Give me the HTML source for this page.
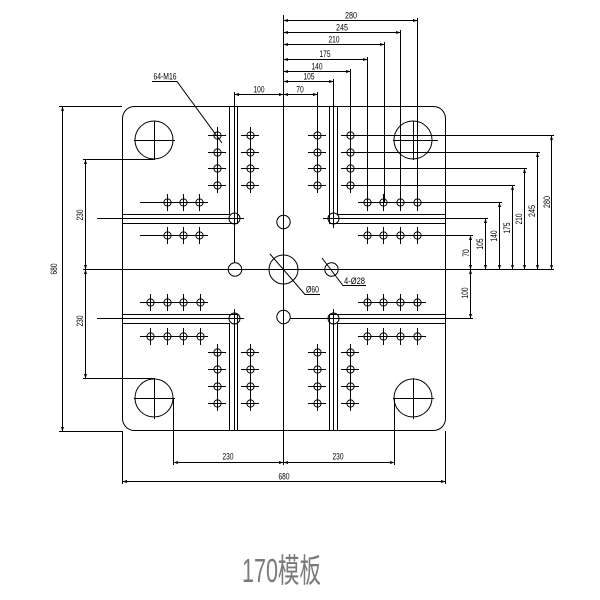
<!DOCTYPE html>
<html><head><meta charset="utf-8"><style>html,body{margin:0;padding:0;background:#fff;}svg{display:block}</style></head>
<body>
<svg width="600" height="600" viewBox="0 0 600 600" xmlns="http://www.w3.org/2000/svg">
<defs>
<marker id="a" viewBox="0 0 6 4" refX="6" refY="2" markerWidth="5" markerHeight="3" markerUnits="userSpaceOnUse" orient="auto-start-reverse"><path d="M0,0L6,2L0,4z" fill="#000"/></marker>
</defs>
<g stroke="#000" stroke-width="1" fill="none">
<!-- plate -->
<rect x="122.5" y="106.5" width="323" height="324" rx="12"/>
<line x1="122.5" y1="431" x2="122.5" y2="484"/>
<line x1="445.5" y1="431" x2="445.5" y2="484"/>
<!-- left 680 -->
<line x1="59" y1="106.5" x2="122" y2="106.5"/>
<line x1="59" y1="431.5" x2="122" y2="431.5"/>
<line x1="62.5" y1="106.5" x2="62.5" y2="431.5" marker-start="url(#a)" marker-end="url(#a)"/>
<!-- left 230s -->
<line x1="83" y1="159.5" x2="154" y2="159.5"/>
<line x1="83" y1="378.5" x2="154" y2="378.5"/>
<line x1="85.5" y1="159.5" x2="85.5" y2="269.5" marker-start="url(#a)" marker-end="url(#a)"/>
<line x1="85.5" y1="269.5" x2="85.5" y2="378.5" marker-start="url(#a)" marker-end="url(#a)"/>
<!-- center lines -->
<line x1="83" y1="269.5" x2="554" y2="269.5"/>
<line x1="283.5" y1="15" x2="283.5" y2="465"/>
<!-- bottom dims -->
<line x1="173.5" y1="398" x2="173.5" y2="465"/>
<line x1="394.5" y1="398" x2="394.5" y2="465"/>
<line x1="173.5" y1="462.5" x2="283.5" y2="462.5" marker-start="url(#a)" marker-end="url(#a)"/>
<line x1="283.5" y1="462.5" x2="394.5" y2="462.5" marker-start="url(#a)" marker-end="url(#a)"/>
<line x1="122.5" y1="481.5" x2="445.5" y2="481.5" marker-start="url(#a)" marker-end="url(#a)"/>
<!-- top dims -->
<line x1="283.5" y1="20.5" x2="417.5" y2="20.5" marker-start="url(#a)" marker-end="url(#a)"/>
<line x1="283.5" y1="32.5" x2="400.5" y2="32.5" marker-start="url(#a)" marker-end="url(#a)"/>
<line x1="283.5" y1="44.5" x2="384.5" y2="44.5" marker-start="url(#a)" marker-end="url(#a)"/>
<line x1="283.5" y1="59.5" x2="367.5" y2="59.5" marker-start="url(#a)" marker-end="url(#a)"/>
<line x1="283.5" y1="71.5" x2="350.5" y2="71.5" marker-start="url(#a)" marker-end="url(#a)"/>
<line x1="283.5" y1="81.5" x2="333.5" y2="81.5" marker-start="url(#a)" marker-end="url(#a)"/>
<line x1="283.5" y1="94.5" x2="317.5" y2="94.5" marker-start="url(#a)" marker-end="url(#a)"/>
<line x1="234.5" y1="94.5" x2="283.5" y2="94.5" marker-start="url(#a)" marker-end="url(#a)"/>
<line x1="417.5" y1="18" x2="417.5" y2="202"/>
<line x1="400.5" y1="30" x2="400.5" y2="202"/>
<line x1="384.5" y1="42" x2="384.5" y2="202"/>
<line x1="367.5" y1="57" x2="367.5" y2="202"/>
<line x1="350.5" y1="69" x2="350.5" y2="193"/>
<line x1="317.5" y1="92" x2="317.5" y2="193"/>
<line x1="333.5" y1="79" x2="333.5" y2="228"/>
<line x1="234.5" y1="92" x2="234.5" y2="263"/>
<!-- right dims -->
<line x1="470.5" y1="269.5" x2="470.5" y2="235.5" marker-start="url(#a)" marker-end="url(#a)"/>
<line x1="485.5" y1="269.5" x2="485.5" y2="218.5" marker-start="url(#a)" marker-end="url(#a)"/>
<line x1="499.5" y1="269.5" x2="499.5" y2="202.5" marker-start="url(#a)" marker-end="url(#a)"/>
<line x1="512.5" y1="269.5" x2="512.5" y2="185.5" marker-start="url(#a)" marker-end="url(#a)"/>
<line x1="524.5" y1="269.5" x2="524.5" y2="168.5" marker-start="url(#a)" marker-end="url(#a)"/>
<line x1="537.5" y1="269.5" x2="537.5" y2="152.5" marker-start="url(#a)" marker-end="url(#a)"/>
<line x1="551.5" y1="269.5" x2="551.5" y2="135.5" marker-start="url(#a)" marker-end="url(#a)"/>
<line x1="470.5" y1="269.5" x2="470.5" y2="318.5" marker-start="url(#a)" marker-end="url(#a)"/>
<line x1="350" y1="135.5" x2="554" y2="135.5"/>
<line x1="350" y1="152.5" x2="540" y2="152.5"/>
<line x1="350" y1="168.5" x2="527" y2="168.5"/>
<line x1="350" y1="185.5" x2="515" y2="185.5"/>
<line x1="358" y1="202.5" x2="502" y2="202.5"/>
<line x1="358" y1="235.5" x2="473" y2="235.5"/>
<line x1="323" y1="218.5" x2="488" y2="218.5"/>
<line x1="290" y1="318.5" x2="473" y2="318.5"/>
<!-- slot centre lines left -->
<line x1="97" y1="218.5" x2="244" y2="218.5"/>
<line x1="97" y1="318.5" x2="244" y2="318.5"/>
<line x1="234.5" y1="309" x2="234.5" y2="431"/>
<line x1="333.5" y1="309" x2="333.5" y2="431"/>
<!-- slots -->
<path d="M229.5,106V214.5H122M237.5,106V223.5H122"/>
<path d="M337.5,106V214.5H446M329.5,106V223.5H446"/>
<path d="M229.5,431V323.5H122M237.5,431V314.5H122"/>
<path d="M337.5,431V323.5H446M329.5,431V314.5H446"/>
<!-- tie bar holes -->
<circle cx="154" cy="140" r="19"/>
<circle cx="413" cy="140" r="19"/>
<circle cx="154" cy="398" r="19"/>
<circle cx="413" cy="398" r="19"/>
<path d="M134,140.5H175M154.5,121V160M393,140.5H438M413.5,121V160M134,398.5H175M154.5,378V419M393,398.5H434M413.5,378V419"/>
<!-- center holes -->
<circle cx="283.5" cy="269.5" r="14.5"/>
<circle cx="283.5" cy="222" r="6.7"/>
<circle cx="235" cy="269.5" r="6.7"/>
<circle cx="331.5" cy="269.5" r="6.7"/>
<circle cx="283.5" cy="317" r="6.7"/>
<circle cx="234.5" cy="218.5" r="5.5"/>
<circle cx="333.5" cy="218.5" r="5.5"/>
<circle cx="234.5" cy="318.5" r="5.5"/>
<circle cx="333.5" cy="318.5" r="5.5"/>
<!-- leaders -->
<path d="M152,81.5H177L222,143"/>
<path d="M270,254L305,294.5H320"/>
<path d="M322,258L343,285.5H366"/>
<!-- hole rows/cols lines -->
<path d="M140,202.5H208M140,235.5H208M140,302.5H208M140,336.5H208M358,302.5H426M358,336.5H426"/>
<path d="M217.5,127V193M250.5,127V193M217.5,344V411M250.5,344V411M317.5,344V411M350.5,344V411"/>
<!-- ticks for cols -->
<path d="M208,135.5H226M208,152.5H226M208,168.5H226M208,185.5H226
M241,135.5H259M241,152.5H259M241,168.5H259M241,185.5H259
M308,135.5H326M308,152.5H326M308,168.5H326M308,185.5H326
M341,135.5H359M341,152.5H359M341,168.5H359M341,185.5H359
M208,352.5H226M208,369.5H226M208,386.5H226M208,403.5H226
M241,352.5H259M241,369.5H259M241,386.5H259M241,403.5H259
M308,352.5H326M308,369.5H326M308,386.5H326M308,403.5H326
M341,352.5H359M341,369.5H359M341,386.5H359M341,403.5H359"/>
<!-- ticks for rows -->
<path d="M167.5,194V211M183.5,194V211M199.5,194V211M167.5,227V244M183.5,227V244M199.5,227V244
M367.5,194V211M383.5,194V211M400.5,194V211M417.5,194V211M367.5,227V244M383.5,227V244M400.5,227V244M417.5,227V244
M150.5,294V311M167.5,294V311M183.5,294V311M200.5,294V311M150.5,328V345M167.5,328V345M183.5,328V345M200.5,328V345
M367.5,294V311M383.5,294V311M400.5,294V311M417.5,294V311M367.5,328V345M383.5,328V345M400.5,328V345M417.5,328V345"/>
<!-- holes -->
<g>
<circle cx="217.5" cy="135.5" r="3.6"/><circle cx="217.5" cy="152.5" r="3.6"/><circle cx="217.5" cy="168.5" r="3.6"/><circle cx="217.5" cy="185.5" r="3.6"/>
<circle cx="250.5" cy="135.5" r="3.6"/><circle cx="250.5" cy="152.5" r="3.6"/><circle cx="250.5" cy="168.5" r="3.6"/><circle cx="250.5" cy="185.5" r="3.6"/>
<circle cx="317.5" cy="135.5" r="3.6"/><circle cx="317.5" cy="152.5" r="3.6"/><circle cx="317.5" cy="168.5" r="3.6"/><circle cx="317.5" cy="185.5" r="3.6"/>
<circle cx="350.5" cy="135.5" r="3.6"/><circle cx="350.5" cy="152.5" r="3.6"/><circle cx="350.5" cy="168.5" r="3.6"/><circle cx="350.5" cy="185.5" r="3.6"/>
<circle cx="217.5" cy="352.5" r="3.6"/><circle cx="217.5" cy="369.5" r="3.6"/><circle cx="217.5" cy="386.5" r="3.6"/><circle cx="217.5" cy="403.5" r="3.6"/>
<circle cx="250.5" cy="352.5" r="3.6"/><circle cx="250.5" cy="369.5" r="3.6"/><circle cx="250.5" cy="386.5" r="3.6"/><circle cx="250.5" cy="403.5" r="3.6"/>
<circle cx="317.5" cy="352.5" r="3.6"/><circle cx="317.5" cy="369.5" r="3.6"/><circle cx="317.5" cy="386.5" r="3.6"/><circle cx="317.5" cy="403.5" r="3.6"/>
<circle cx="350.5" cy="352.5" r="3.6"/><circle cx="350.5" cy="369.5" r="3.6"/><circle cx="350.5" cy="386.5" r="3.6"/><circle cx="350.5" cy="403.5" r="3.6"/>
<circle cx="167.5" cy="202.5" r="3.6"/><circle cx="183.5" cy="202.5" r="3.6"/><circle cx="199.5" cy="202.5" r="3.6"/>
<circle cx="167.5" cy="235.5" r="3.6"/><circle cx="183.5" cy="235.5" r="3.6"/><circle cx="199.5" cy="235.5" r="3.6"/>
<circle cx="367.5" cy="202.5" r="3.6"/><circle cx="383.5" cy="202.5" r="3.6"/><circle cx="400.5" cy="202.5" r="3.6"/><circle cx="417.5" cy="202.5" r="3.6"/>
<circle cx="367.5" cy="235.5" r="3.6"/><circle cx="383.5" cy="235.5" r="3.6"/><circle cx="400.5" cy="235.5" r="3.6"/><circle cx="417.5" cy="235.5" r="3.6"/>
<circle cx="150.5" cy="302.5" r="3.6"/><circle cx="167.5" cy="302.5" r="3.6"/><circle cx="183.5" cy="302.5" r="3.6"/><circle cx="200.5" cy="302.5" r="3.6"/>
<circle cx="150.5" cy="336.5" r="3.6"/><circle cx="167.5" cy="336.5" r="3.6"/><circle cx="183.5" cy="336.5" r="3.6"/><circle cx="200.5" cy="336.5" r="3.6"/>
<circle cx="367.5" cy="302.5" r="3.6"/><circle cx="383.5" cy="302.5" r="3.6"/><circle cx="400.5" cy="302.5" r="3.6"/><circle cx="417.5" cy="302.5" r="3.6"/>
<circle cx="367.5" cy="336.5" r="3.6"/><circle cx="383.5" cy="336.5" r="3.6"/><circle cx="400.5" cy="336.5" r="3.6"/><circle cx="417.5" cy="336.5" r="3.6"/>
</g>
</g>
<g font-family="Liberation Sans, sans-serif" font-size="9" fill="#000" text-anchor="middle">
<text x="351" y="18.5" textLength="12" lengthAdjust="spacingAndGlyphs">280</text>
<text x="342" y="30.5" textLength="12" lengthAdjust="spacingAndGlyphs">245</text>
<text x="334" y="42.5" textLength="11" lengthAdjust="spacingAndGlyphs">210</text>
<text x="325" y="57" textLength="11" lengthAdjust="spacingAndGlyphs">175</text>
<text x="317" y="69.5" textLength="11" lengthAdjust="spacingAndGlyphs">140</text>
<text x="309" y="79.5" textLength="11" lengthAdjust="spacingAndGlyphs">105</text>
<text x="300" y="92.5" textLength="7.5" lengthAdjust="spacingAndGlyphs">70</text>
<text x="259" y="92.5" textLength="11" lengthAdjust="spacingAndGlyphs">100</text>
<text x="228" y="459.5" textLength="11" lengthAdjust="spacingAndGlyphs">230</text>
<text x="338" y="459.5" textLength="11" lengthAdjust="spacingAndGlyphs">230</text>
<text x="284" y="479.5" textLength="11" lengthAdjust="spacingAndGlyphs">680</text>
<g transform="translate(466,253) rotate(-90)"><text x="0" y="3" textLength="7.5" lengthAdjust="spacingAndGlyphs">70</text></g>
<g transform="translate(480,244) rotate(-90)"><text x="0" y="3" textLength="11" lengthAdjust="spacingAndGlyphs">105</text></g>
<g transform="translate(494,236) rotate(-90)"><text x="0" y="3" textLength="11" lengthAdjust="spacingAndGlyphs">140</text></g>
<g transform="translate(507,228) rotate(-90)"><text x="0" y="3" textLength="11" lengthAdjust="spacingAndGlyphs">175</text></g>
<g transform="translate(519,219) rotate(-90)"><text x="0" y="3" textLength="11" lengthAdjust="spacingAndGlyphs">210</text></g>
<g transform="translate(532,211) rotate(-90)"><text x="0" y="3" textLength="12" lengthAdjust="spacingAndGlyphs">245</text></g>
<g transform="translate(547,202) rotate(-90)"><text x="0" y="3" textLength="12" lengthAdjust="spacingAndGlyphs">280</text></g>
<g transform="translate(465,293) rotate(-90)"><text x="0" y="3" textLength="11" lengthAdjust="spacingAndGlyphs">100</text></g>
<g transform="translate(54,269) rotate(-90)"><text x="0" y="3" textLength="11" lengthAdjust="spacingAndGlyphs">680</text></g>
<g transform="translate(80,215) rotate(-90)"><text x="0" y="3" textLength="11" lengthAdjust="spacingAndGlyphs">230</text></g>
<g transform="translate(80,321) rotate(-90)"><text x="0" y="3" textLength="11" lengthAdjust="spacingAndGlyphs">230</text></g>
<text x="165" y="79.5" textLength="23" lengthAdjust="spacingAndGlyphs">64-M16</text>
<text x="312.5" y="292.5" textLength="13" lengthAdjust="spacingAndGlyphs">Ø60</text>
<text x="354.5" y="284" textLength="21" lengthAdjust="spacingAndGlyphs">4-Ø28</text>
</g>
<text x="242" y="582" font-family="Liberation Sans, 'Noto Sans CJK SC', sans-serif" font-size="33" fill="#7a7a7a" textLength="79" lengthAdjust="spacingAndGlyphs">170模板</text>
</svg>
</body></html>
